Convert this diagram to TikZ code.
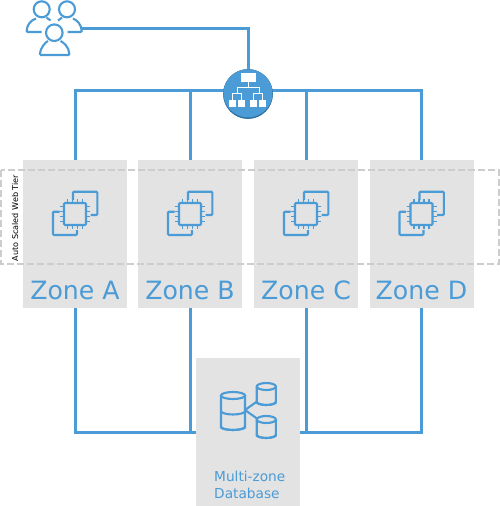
\documentclass[tikz,border=0pt]{standalone}
\usepackage{fontspec}
\setmainfont{DejaVu Sans}
\usetikzlibrary{arrows.meta,positioning,calc}
\definecolor{LinkBlue}{HTML}{4A9BD6}
\definecolor{DeepBlue}{HTML}{2F6F9F}
\definecolor{ZoneGray}{HTML}{E3E3E3}
\definecolor{DashGray}{HTML}{CDCDCD}
\tikzset{
  zonebox/.style={rectangle,fill=ZoneGray,minimum width=104pt,minimum height=148pt,inner sep=0pt},
  zonetext/.style={font=\fontsize{25.2}{28}\selectfont\color{LinkBlue},inner sep=0pt},
  link/.style={draw=LinkBlue,line width=3pt},
  icon/.style={draw=LinkBlue,line width=2.1pt,rounded corners=1pt},
  thinicon/.style={draw=LinkBlue,line width=1.5pt},
  whitebox/.style={fill=white,draw=none},
  tierbox/.style={draw=DashGray,line width=2.3pt,dash pattern=on 7pt off 3pt},
  chip/.pic={
    \draw[icon] (-2,-14) -- (-2,-22.3) -- (22.3,-22.3) -- (22.3,1) -- (15.7,1);
    \draw[icon] (-15.3,-2.3) -- (-22,-2.3) -- (-22,21) -- (2,21) -- (2,16);
    \draw[icon] (-11,-11) rectangle (11,11);
    \foreach \p in {-7.5,-2.5,2.5,7.5} {
      \draw[thinicon] (\p,-15) -- (\p,-11) (\p,11) -- (\p,15);
      \draw[thinicon] (-15,\p) -- (-11,\p) (11,\p) -- (15,\p);
    }
  },
}
% x, top, half width, height, sections
\newcommand{\dbstack}[5]{
  \draw[icon] (#1-#3,#2+3.5) -- (#1-#3,#2+#4-3.5) arc[start angle=180,end angle=0,x radius=#3,y radius=3.5]
    -- (#1+#3,#2+3.5);
  \draw[icon] (#1,#2+3.5) ellipse[x radius=#3,y radius=3.5];
  \foreach \k in {1,...,#5} {
    \draw[icon] (#1-#3,#2+3.5+\k*#4/#5-\k*7/#5) arc[start angle=180,end angle=0,x radius=#3,y radius=3.5];
  }
}

\begin{document}
\begin{tikzpicture}[x=1pt,y=-1pt]
  \useasboundingbox (0,0) rectangle (500,506);

  % zones
  \foreach \name/\x in {A/75,B/190,C/306,D/421.5} {
    \node[zonebox] (zone\name) at (\x,234) {};
    \node[zonetext] (label\name) at (\x,290) {Zone \name};
  }
  \node[zonebox] (zoneDB) at (248,432) {};

  % connectors
  \coordinate (bus) at (248,90);
  \coordinate (users) at (81,28);
  \node[circle,fill=DeepBlue,minimum size=49.6pt,inner sep=0pt] (lb) at (248,94) {};
  \draw[link] (users) -| (lb.north);
  \foreach \name in {A,B,C,D} {
    \draw[link] (zone\name.north) |- (bus);
  }
  \foreach \name in {A,B} {
    \draw[link] (zone\name.south) |- (zoneDB.west);
  }
  \foreach \name in {C,D} {
    \draw[link] (zone\name.south) |- (zoneDB.east);
  }

  % load balancer
  \node[circle,fill=DeepBlue,minimum size=49.6pt,inner sep=0pt] at (lb) {};
  \begin{scope}
    \clip (lb.center) circle (24.8pt);
    \fill[LinkBlue] (248,92.6) circle (24.8pt);
  \end{scope}
  \fill[whitebox] (240.7,73.3) rectangle (255.7,81.7);
  \foreach \x in {229.3,238.3,250,259.3} {
    \fill[whitebox] (\x,100) rectangle +(6.8,6.8);
  }
  \draw[white,line width=1.2pt] (248.2,81.7) -- (248.2,87.3) (237.7,93.5) -- (237.7,87.3) -- (259.3,87.3) -- (259.3,93.5)
    (232.7,100) -- (232.7,93.5) -- (241.7,93.5) -- (241.7,100)
    (253.4,100) -- (253.4,93.5) -- (262.7,93.5) -- (262.7,100);

  % users
  \draw[icon] (41.7,9.3) circle (8pt) (67,9.3) circle (8pt) (54.3,32.7) circle (8.3pt);
  \draw[icon] (41.5,32) -- (26.7,32) .. controls (26.7,25) and (31,20) .. (36,18.5);
  \draw[icon] (46.5,17.5) -- (50.5,20.5);
  \draw[icon] (67.5,32) -- (81.7,32) .. controls (81.7,25) and (77,20) .. (73,18.5);
  \draw[icon] (62,17.5) -- (58,20.5);
  \draw[icon] (40,55) .. controls (40,47) and (46,42) .. (48,41)
    (60.5,41) .. controls (63,42) and (69.3,47) .. (69.3,55) -- (40,55);

  % web tier
  \foreach \x in {75,190,306,421.5} {
    \pic at (\x,214) {chip};
  }
  \draw[tierbox] (1,170) rectangle (499,264);
  \node[rotate=90,font=\fontsize{8.1}{9}\selectfont,inner sep=0pt] (tier) at (15,218) {Auto Scaled Web Tier};

  % database
  \dbstack{233}{392}{12}{38}{2}
  \dbstack{266.3}{383}{9.6}{22}{1}
  \dbstack{266.3}{416}{9.6}{22}{1}
  \draw[icon] (245,410) -- (256.7,401.7) (245,410) -- (256.7,418.3);
  \node[anchor=north west,align=left,inner sep=0pt,text=LinkBlue,font=\fontsize{13.7}{17}\selectfont] (dblabel) at (214,471) {Multi-zone\\Database};
\end{tikzpicture}
\end{document}
